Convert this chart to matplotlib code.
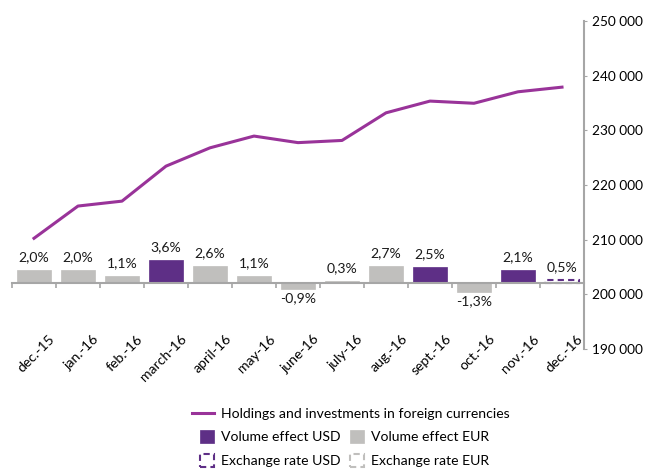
import numpy as np
import matplotlib
matplotlib.use('Agg')
import matplotlib.pyplot as plt
import matplotlib.transforms as mtransforms
from matplotlib.lines import Line2D
from matplotlib.patches import Patch
from matplotlib.ticker import FuncFormatter

plt.rcParams['font.family'] = ['Lato', 'DejaVu Sans']

# data
months = ['dec.-15', 'jan.-16', 'feb.-16', 'march-16', 'april-16', 'may-16', 'june-16',
          'july-16', 'aug.-16', 'sept.-16', 'oct.-16', 'nov.-16', 'dec.-16']
change_pct = [2.0, 2.0, 1.1, 3.6, 2.6, 1.1, -0.9, 0.3, 2.7, 2.5, -1.3, 2.1, 0.5]
effect = ['vol_eur', 'vol_eur', 'vol_eur', 'vol_usd', 'vol_eur', 'vol_eur', 'vol_eur',
          'vol_eur', 'vol_eur', 'vol_usd', 'vol_eur', 'vol_usd', 'fx_usd']
holdings = [210250, 216150, 217050, 223450, 226800, 228950, 227750,
            228150, 233200, 235350, 234950, 237050, 237900]

purple = '#5e2f86'
grey = '#c0bfbd'
line_col = '#993399'
axis_col = '#a6a6a6'
fs = 10.1

styles = {
    'vol_usd': dict(facecolor=purple, edgecolor=purple, linewidth=0.5, linestyle='-'),
    'vol_eur': dict(facecolor=grey, edgecolor=grey, linewidth=0.5, linestyle='-'),
    'fx_usd': dict(facecolor='white', edgecolor=purple, linewidth=1.5, linestyle=(0, (3, 2))),
    'fx_eur': dict(facecolor='white', edgecolor=grey, linewidth=1.5, linestyle=(0, (3, 2))),
}

fig = plt.figure(figsize=(6.47, 4.73), dpi=100)
ax = fig.add_axes([12/647, 1-349/473, (584-12)/647, (349-21)/473])
x = np.arange(len(months))
vals = np.array(change_pct)
kinds = np.array(effect)

for k, st in styles.items():
    m = kinds == k
    if m.any():
        ax.bar(x[m], vals[m], width=0.76, **st)

for xi, v in zip(x, change_pct):
    lab = f"{v:.1f}%".replace('.', ',')
    if v >= 0:
        ax.annotate(lab, (xi, v), xytext=(0, 5), textcoords='offset points',
                    ha='center', va='bottom', fontsize=fs, color='#1a1a1a')
    else:
        ax.annotate(lab, (xi, v), xytext=(0, -2), textcoords='offset points',
                    ha='center', va='top', fontsize=fs, color='#1a1a1a')

ax.set_xlim(-0.5, len(months) - 0.5)
ax.set_ylim(-10, 40)
for s in ['top', 'left', 'right']:
    ax.spines[s].set_visible(False)
ax.spines['bottom'].set_position(('data', 0))
ax.spines['bottom'].set_color(axis_col)
ax.spines['bottom'].set_linewidth(1.5)
ax.set_yticks([])
ax.set_xticks(x)
ax.set_xticks(np.arange(-0.5, len(months)), minor=True)
ax.tick_params(axis='x', which='major', length=0, pad=38.5, labelsize=fs)
ax.tick_params(axis='x', which='minor', length=3.6, color=axis_col, width=1.2)
ax.set_xticklabels(months, rotation=45, ha='right', va='center', rotation_mode='anchor')
shift = mtransforms.ScaledTranslation(0.19, 0, fig.dpi_scale_trans)
for t in ax.get_xticklabels():
    t.set_transform(t.get_transform() + shift)

ax2 = ax.twinx()
ax2.plot(x, holdings, color=line_col, linewidth=2.2)
ax2.set_ylim(190000, 250000)
ax2.set_yticks(np.arange(190000, 250001, 10000))
ax2.yaxis.set_major_formatter(FuncFormatter(lambda v, p: f"{int(v):,}".replace(',', ' ')))
for s in ['top', 'left', 'bottom']:
    ax2.spines[s].set_visible(False)
ax2.spines['right'].set_color(axis_col)
ax2.spines['right'].set_linewidth(1.5)
ax2.tick_params(axis='y', length=2.5, color=axis_col, pad=3, labelsize=9.8)

h_line = [Line2D([], [], color=line_col, linewidth=2.2)]
fig.legend(handles=h_line, labels=['Holdings and investments in foreign currencies'],
           loc='center left', bbox_to_anchor=(192/647, 1-414/473), frameon=False,
           borderpad=0, borderaxespad=0, handlelength=1.6, handletextpad=0.5, fontsize=fs)

h_bars = [Patch(**styles['vol_usd']), Patch(**styles['fx_usd']),
          Patch(**styles['vol_eur']), Patch(**styles['fx_eur'])]
l_bars = ['Volume effect USD', 'Exchange rate USD', 'Volume effect EUR', 'Exchange rate EUR']
fig.legend(handles=h_bars, labels=l_bars, ncol=2,
           loc='upper left', bbox_to_anchor=(200/647, 1-430/473), frameon=False,
           borderpad=0, borderaxespad=0, handlelength=1.0, handleheight=1.0,
           handletextpad=0.5, labelspacing=0.8, columnspacing=0.7, fontsize=fs)

fig.savefig('out.png', dpi=100)
